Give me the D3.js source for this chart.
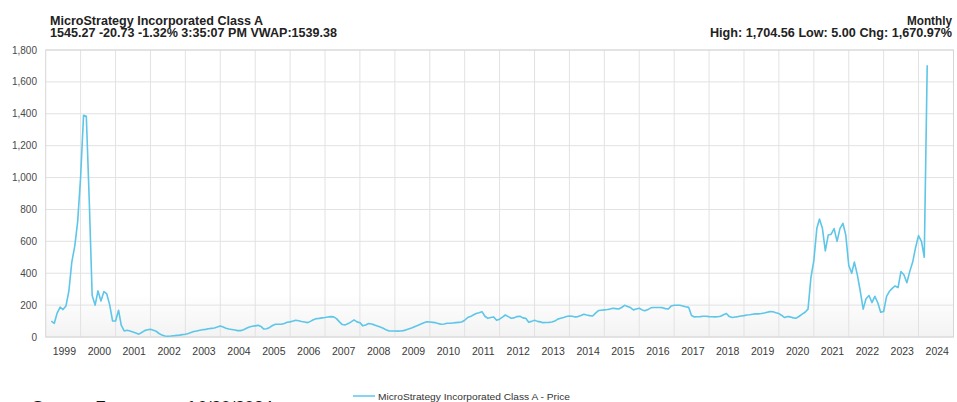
<!DOCTYPE html>
<html>
<head>
<meta charset="utf-8">
<script src="https://cdn.jsdelivr.net/npm/d3@7"></script>
<style>
  body { margin: 0; background: #fff; }
  svg { display: block; font-family: "Liberation Sans", Arial, sans-serif; }
</style>
</head>
<body>
<svg></svg>
<script>
// monthly closes, first value is March 1999
const startMonth = "1999-03";
const close1999to2004 = [
  100, 86, 150, 188, 172, 195, 290, 470, 570, 720,
  1000, 1390, 1385, 850, 260, 200, 289, 226, 285, 270, 200, 100,
  100, 168, 75, 38, 42, 38, 32, 25, 18, 28, 40, 45,
  48, 42, 36, 22, 12, 6, 5, 6, 8, 10, 12, 15,
  17, 22, 28, 34, 38, 42, 46, 48, 52, 54, 56, 62,
  69, 62, 55, 50, 47, 44, 40, 40, 46, 55, 63, 67
];
const close2005to2010 = [
  70, 73, 66, 50, 52, 60, 72, 80, 80, 80, 85, 92,
  95, 100, 105, 102, 97, 94, 90, 98, 108, 115, 117, 120,
  122, 125, 128, 126, 115, 95, 78, 76, 84, 95, 107, 95,
  90, 70, 75, 85, 82, 76, 69, 62, 55, 45, 38, 38,
  38, 37, 38, 40, 46, 52, 58, 66, 74, 82, 90, 96,
  94, 92, 90, 84, 80, 82, 86, 86, 88, 90, 92, 94
];
const close2011to2016 = [
  105, 122, 128, 138, 147, 152, 159, 130, 117, 122, 126, 105,
  112, 125, 138, 128, 118, 120, 128, 130, 120, 117, 92, 98,
  105, 98, 95, 90, 91, 92, 94, 100, 112, 117, 122, 128,
  132, 130, 126, 128, 135, 143, 138, 134, 132, 150, 166, 168,
  170, 172, 175, 180, 178, 176, 185, 199, 192, 185, 170, 175,
  180, 170, 164, 172, 183, 185, 185, 185, 184, 178, 176, 195
];
const close2017to2024 = [
  199, 199, 199, 195, 190, 186, 135, 126, 127, 128, 130, 130,
  128, 127, 126, 127, 130, 140, 147, 128, 122, 125, 128, 132,
  134, 138, 140, 143, 145, 145, 147, 150, 155, 159, 158, 152,
  147, 135, 122, 128, 126, 120, 118, 130, 143, 155, 175, 370,
  480, 680, 740, 680, 540, 640, 645, 680, 600, 680, 713, 640,
  450, 400, 470, 390, 290, 175, 240, 260, 216, 255, 215, 155,
  160, 255, 285, 305, 320, 310, 410, 390, 340, 410, 470, 560,
  636, 600, 500, 1704.56
];

const yTicks = [0, 200, 400, 600, 800, 1000, 1200, 1400, 1600, 1800];
const yearLabels = d3.range(1999, 2025);

const titleLines = ["MicroStrategy Incorporated Class A", "1545.27 -20.73 -1.32% 3:35:07 PM VWAP:1539.38"];
const rightLines = ["Monthly", "High: 1,704.56 Low: 5.00 Chg: 1,670.97%"];
const legendLabel = "MicroStrategy Incorporated Class A - Price";
const sourceNote = "Source: Factset as of 6/20/2024";

const width = 957, height = 402;
const plotLeft = 45.7, plotRight = 953.5, plotTop = 50, plotBottom = 337;
const lineColor = "#5ec6e8";

const start = d3.utcParse("%Y-%m")(startMonth);
const data = [...close1999to2004, ...close2005to2010, ...close2011to2016, ...close2017to2024]
  .map((v, i) => ({ date: d3.utcMonth.offset(start, i), value: v }));

const x = d3.scaleUtc()
  .domain([new Date(Date.UTC(1999, 0, 1)), new Date(Date.UTC(2025, 0, 1))])
  .range([plotLeft, plotRight]);

const y = d3.scaleLinear()
  .domain([0, 1800])
  .range([plotBottom, plotTop]);

const svg = d3.select("svg")
  .attr("width", width)
  .attr("height", height)
  .attr("viewBox", [0, 0, width, height]);

svg.append("rect").attr("width", width).attr("height", height).attr("fill", "#fff");

// plot background, slightly grey at the bottom
const grad = svg.append("defs").append("linearGradient")
  .attr("id", "bg").attr("x1", 0).attr("y1", 0).attr("x2", 0).attr("y2", 1);
grad.append("stop").attr("offset", "0%").attr("stop-color", "#ffffff");
grad.append("stop").attr("offset", "85%").attr("stop-color", "#ffffff");
grad.append("stop").attr("offset", "100%").attr("stop-color", "#f3f3f3");

svg.append("rect")
  .attr("x", plotLeft).attr("y", plotTop)
  .attr("width", plotRight - plotLeft).attr("height", plotBottom - plotTop)
  .attr("fill", "url(#bg)");

// grid lines
svg.append("g")
  .selectAll("line")
  .data(yTicks)
  .join("line")
  .attr("x1", plotLeft).attr("x2", plotRight)
  .attr("y1", d => y(d)).attr("y2", d => y(d))
  .attr("stroke", "#e2e2e2");

svg.append("g")
  .selectAll("line")
  .data(yearLabels.slice(1))
  .join("line")
  .attr("x1", d => x(new Date(Date.UTC(d, 0, 1))))
  .attr("x2", d => x(new Date(Date.UTC(d, 0, 1))))
  .attr("y1", plotTop).attr("y2", plotBottom)
  .attr("stroke", "#e2e2e2");

svg.append("rect")
  .attr("x", plotLeft).attr("y", plotTop)
  .attr("width", plotRight - plotLeft).attr("height", plotBottom - plotTop)
  .attr("fill", "none").attr("stroke", "#d6d6d6");

// y labels
svg.append("g")
  .selectAll("text")
  .data(yTicks)
  .join("text")
  .attr("x", 37)
  .attr("y", d => y(d) + 3.5)
  .attr("text-anchor", "end")
  .attr("fill", "#4a4a4a")
  .style("font-size", "10px")
  .text(d => d3.format(",")(d));

// x labels, centred in each year
svg.append("g")
  .selectAll("text")
  .data(yearLabels)
  .join("text")
  .attr("x", d => x(new Date(Date.UTC(d, 6, 15))))
  .attr("y", 355)
  .attr("text-anchor", "middle")
  .attr("fill", "#3a3a3a")
  .style("font-size", "10.5px")
  .text(d => d);

// price line
const line = d3.line()
  .x(d => x(d.date))
  .y(d => y(d.value));

svg.append("path")
  .datum(data)
  .attr("fill", "none")
  .attr("stroke", lineColor)
  .attr("stroke-width", 1.6)
  .attr("stroke-linejoin", "round")
  .attr("d", line);

// header
const titleWidths = [213, 287];
svg.append("g")
  .selectAll("text")
  .data(titleLines)
  .join("text")
  .attr("x", 50)
  .attr("y", (d, i) => 24.5 + i * 12.5)
  .attr("fill", "#222")
  .attr("textLength", (d, i) => titleWidths[i])
  .attr("lengthAdjust", "spacingAndGlyphs")
  .style("font-size", "12px")
  .style("font-weight", "bold")
  .text(d => d);

const rightWidths = [45, 242];
svg.append("g")
  .selectAll("text")
  .data(rightLines)
  .join("text")
  .attr("x", 952)
  .attr("y", (d, i) => 24.5 + i * 12.5)
  .attr("text-anchor", "end")
  .attr("fill", "#222")
  .attr("textLength", (d, i) => rightWidths[i])
  .attr("lengthAdjust", "spacingAndGlyphs")
  .style("font-size", "12px")
  .style("font-weight", "bold")
  .text(d => d);

// legend
svg.append("line")
  .attr("x1", 353).attr("x2", 375)
  .attr("y1", 396).attr("y2", 396)
  .attr("stroke", lineColor).attr("stroke-width", 1.5);

svg.append("text")
  .attr("x", 378).attr("y", 399.5)
  .attr("fill", "#333")
  .attr("textLength", 192)
  .attr("lengthAdjust", "spacingAndGlyphs")
  .style("font-size", "9px")
  .text(legendLabel);

// source note, mostly below the window edge as in the original
svg.append("text")
  .attr("x", 32).attr("y", 412.5)
  .attr("fill", "#111")
  .style("font-size", "17px")
  .text(sourceNote);
</script>
</body>
</html>
